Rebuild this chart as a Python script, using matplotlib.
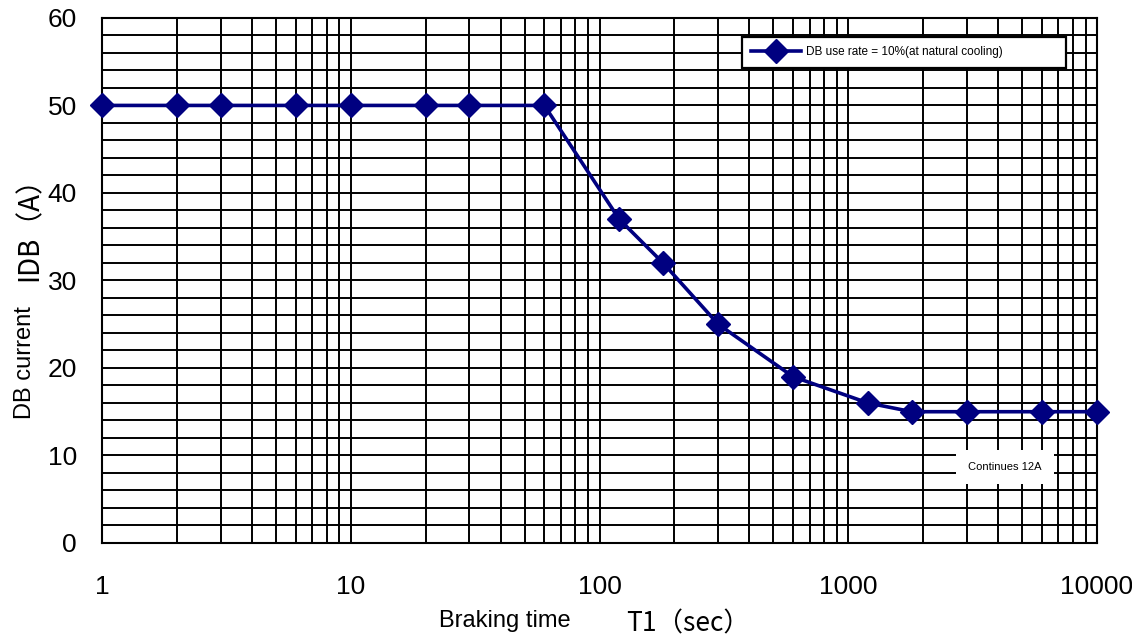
import matplotlib.pyplot as plt
from matplotlib.ticker import LogLocator, MultipleLocator, FixedLocator, FixedFormatter

plt.rcParams['font.family'] = ['Liberation Sans', 'DejaVu Sans']

# braking time T1 (sec) and DB current (A)
t1 = [1, 2, 3, 6, 10, 20, 30, 60, 120, 180, 300, 600, 1200, 1800, 3000, 6000, 10000]
idb = [50, 50, 50, 50, 50, 50, 50, 50, 37, 32, 25, 19, 16, 15, 15, 15, 15]

x_ticks = [1, 10, 100, 1000, 10000]
x_labels = ['1', '10', '100', '1000', '10000']
y_ticks = [0, 10, 20, 30, 40, 50, 60]

fig = plt.figure(figsize=(11.32, 6.4), dpi=100)
ax = fig.add_axes([0.0901, 0.1516, 0.8790, 0.8204])

ax.plot(t1, idb, color='#000080', lw=2.6, marker='D', ms=12,
        label='DB use rate = 10%(at natural cooling)', clip_on=False, zorder=5)

ax.set_xscale('log')
ax.set_xlim(1, 10000)
ax.set_ylim(0, 60)

ax.xaxis.set_major_locator(FixedLocator(x_ticks))
ax.xaxis.set_major_formatter(FixedFormatter(x_labels))
ax.xaxis.set_minor_locator(LogLocator(base=10, subs=range(2, 10)))
ax.xaxis.set_minor_formatter(FixedFormatter([]))
ax.yaxis.set_major_locator(FixedLocator(y_ticks))
ax.yaxis.set_minor_locator(MultipleLocator(2))

ax.grid(True, which='both', color='black', lw=1.4)
ax.set_axisbelow(True)
for s in ax.spines.values():
    s.set_linewidth(1.5)
    s.set_color('black')

ax.tick_params(which='both', length=0)
ax.tick_params(axis='y', labelsize=19, pad=18)
ax.tick_params(axis='x', labelsize=19, pad=23)

leg = ax.legend(loc='upper left', bbox_to_anchor=(0.643, 0.901, 0.326, 0.063),
                mode='expand', borderaxespad=0, fontsize=8.5,
                frameon=True, fancybox=False, framealpha=1, edgecolor='black',
                handlelength=4.2, borderpad=0.8, handletextpad=0.4)
leg.get_frame().set_linewidth(1.6)

ax.text(0.9075, 0.145, 'Continues 12A', transform=ax.transAxes, ha='center', va='center',
        fontsize=8, bbox=dict(boxstyle='square,pad=1.1', fc='white', ec='none'), zorder=6)

# axis titles
fig.text(505 / 1132, 1 - 621 / 640, 'Braking time', ha='center', va='center', fontsize=17)
fig.text(688 / 1132, 1 - 624 / 640, 'T1（sec）', ha='center', va='center', fontsize=19,
         family=['Noto Sans CJK JP', 'DejaVu Sans'])
fig.text(25 / 1132, 1 - 363 / 640, 'DB current', ha='center', va='center', fontsize=17,
         rotation=90)
fig.text(30 / 1132, 1 - 222 / 640, 'IDB（A）', ha='center', va='center', fontsize=20,
         rotation=90, family=['Noto Sans CJK JP', 'DejaVu Sans'])

fig.savefig('out.png', dpi=100)
